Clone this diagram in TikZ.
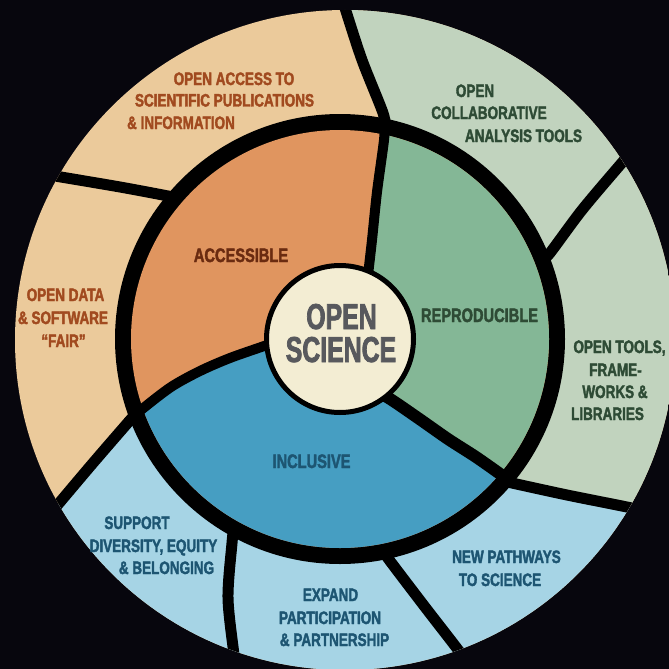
\documentclass[tikz,border=0pt]{standalone}
\usepackage{fontspec}
\setmainfont{Liberation Sans}
\newfontfamily\labfont{Liberation Sans}[FakeStretch=0.75, BoldFeatures={FakeBold=2}]
\newfontfamily\ctrfont{Liberation Sans}[FakeStretch=0.69, BoldFeatures={FakeBold=2}]
\definecolor{bgC}{HTML}{07060D}
\definecolor{tanC}{HTML}{EBCA9B}
\definecolor{orangeC}{HTML}{E0955F}
\definecolor{lgreenC}{HTML}{C1D3BE}
\definecolor{mgreenC}{HTML}{84B796}
\definecolor{lblueC}{HTML}{A6D4E5}
\definecolor{mblueC}{HTML}{469EC2}
\definecolor{creamC}{HTML}{F3EDD3}
\definecolor{rustC}{HTML}{A14A1F}
\definecolor{brownC}{HTML}{6A2B10}
\definecolor{dgreenC}{HTML}{2E4B35}
\definecolor{dblueC}{HTML}{1D5572}
\definecolor{grayC}{HTML}{58595D}
\newcommand\greenpath{(340,339) -- (368,272) -- (372,240) -- (377,192) -- (384,140) -- (385,122) -- (383,113) -- (362,60) -- (345,8) -- (338,-15) -- (700,-15) -- (700,520) -- (660,514) -- (622,506) -- (567,495) -- (512,483) -- (503,476) -- (476,457) -- (448,439) -- (418,418) -- (387,397) -- cycle}
\newcommand\bluepath{(340,339) -- (387,397) -- (418,418) -- (448,439) -- (476,457) -- (503,476) -- (512,483) -- (567,495) -- (622,506) -- (660,514) -- (700,520) -- (700,700) -- (-20,700) -- (-20,550) -- (35,532) -- (55,508) -- (93,463) -- (132,418) -- (141,410) -- (171,387) -- (200,371) -- (230,358) -- (267,345) -- cycle}
\tikzset{
  sep/.style={draw=black, line width=11pt, line cap=butt, line join=round},
  lab/.style={font=\labfont\bfseries\fontsize{18}{20}\selectfont, inner sep=0pt, anchor=base},
  midlab/.style={font=\labfont\bfseries\fontsize{19.5}{22}\selectfont, inner sep=0pt, anchor=base},
  ctrlab/.style={font=\ctrfont\bfseries\fontsize{36}{40}\selectfont, inner sep=0pt, anchor=base, text=grayC}
}
\begin{document}
\begin{tikzpicture}[x=1pt,y=-1pt]
\useasboundingbox (0,0) rectangle (669,669);
\fill[bgC] (0,0) rectangle (669,669);
% outer ring sectors
\begin{scope}
  \clip (345,340) circle (330pt);
  \fill[tanC] (0,0) rectangle (700,700);
  \fill[lgreenC] \greenpath;
  \fill[lblueC] \bluepath;
\end{scope}
% middle ring
\fill[black] (340,339) circle (225pt);
\begin{scope}
  \clip (340,339) circle (209pt);
  \fill[orangeC] (0,0) rectangle (700,700);
  \fill[mgreenC] \greenpath;
  \fill[mblueC] \bluepath;
\end{scope}
% separators
\begin{scope}
  \clip (345,340) circle (330pt);
  % middle arms
  \draw[sep, line width=10pt] plot[smooth] coordinates {(368,275) (372,240) (377,192) (384,140) (385,118)};
  \draw[sep, line width=10pt] plot[smooth] coordinates {(300,333) (267,345) (230,358) (200,371) (171,387) (141,410) (128,422)};
  \draw[sep, line width=12pt] plot[smooth] coordinates {(360,383) (387,397) (418,418) (448,439) (476,457) (503,476) (512,483)};
  % outer arms
  \draw[sep] plot[smooth] coordinates {(385,128) (383,113) (362,60) (345,8) (338,-15)};
  \draw[sep] plot[smooth] coordinates {(140,410) (132,418) (93,463) (55,508) (35,532)};
  \draw[sep] plot[smooth] coordinates {(500,480) (512,483) (567,495) (622,506) (660,514)};
  \draw[sep] plot[smooth] coordinates {(176,198) (168,196) (120,187) (55,176) (20,170)};
  \draw[sep] plot[smooth] coordinates {(234,525) (232,543) (228,598) (234,655) (237,680)};
  \draw[sep] plot[smooth] coordinates {(384,552) (390,561) (425,607) (462,655) (475,675)};
  \draw[sep] plot[smooth] coordinates {(544,258) (550,253) (582,210) (620,165) (640,142)};
\end{scope}
% centre
\node[circle, fill=creamC, draw=black, line width=5pt, minimum size=147pt, inner sep=0pt] (ctr) at (340,339) {};
\node[ctrlab] (c1) at (341.5,329) {OPEN};
\node[ctrlab] (c2) at (341,362) {SCIENCE};
% middle labels
\node[midlab, text=brownC] (acc) at (241,262) {ACCESSIBLE};
\node[midlab, text=dgreenC] (rep) at (479.5,322) {REPRODUCIBLE};
\node[midlab, text=dblueC] (inc) at (311.5,468) {INCLUSIVE};
% outer labels
\node[lab, text=rustC] (oa1) at (234,85) {OPEN ACCESS TO};
\node[lab, text=rustC] (oa2) at (224.5,106.5) {SCIENTIFIC PUBLICATIONS};
\node[lab, text=rustC] (oa3) at (181,129) {\& INFORMATION};
\node[lab, text=rustC] (od1) at (65.5,301) {OPEN DATA};
\node[lab, text=rustC] (od2) at (63,324) {\& SOFTWARE};
\node[lab, text=rustC] (od3) at (63.5,347) {“FAIR”};
\node[lab, text=dgreenC] (oc1) at (475,97) {OPEN};
\node[lab, text=dgreenC] (oc2) at (489,119) {COLLABORATIVE};
\node[lab, text=dgreenC] (oc3) at (523.5,142) {ANALYSIS TOOLS};
\node[lab, text=dgreenC] (ot1) at (619.5,353) {OPEN TOOLS,};
\node[lab, text=dgreenC] (ot2) at (615.5,376) {FRAME-};
\node[lab, text=dgreenC] (ot3) at (615,398) {WORKS \&};
\node[lab, text=dgreenC] (ot4) at (607.5,420) {LIBRARIES};
\node[lab, text=dblueC] (sd1) at (137,529) {SUPPORT};
\node[lab, text=dblueC] (sd2) at (153.5,552) {DIVERSITY, EQUITY};
\node[lab, text=dblueC] (sd3) at (166.5,574) {\& BELONGING};
\node[lab, text=dblueC] (ep1) at (330.5,601) {EXPAND};
\node[lab, text=dblueC] (ep2) at (330,624) {PARTICIPATION};
\node[lab, text=dblueC] (ep3) at (334.5,646) {\& PARTNERSHIP};
\node[lab, text=dblueC] (np1) at (506.5,563) {NEW PATHWAYS};
\node[lab, text=dblueC] (np2) at (500,586) {TO SCIENCE};
\end{tikzpicture}
\end{document}
